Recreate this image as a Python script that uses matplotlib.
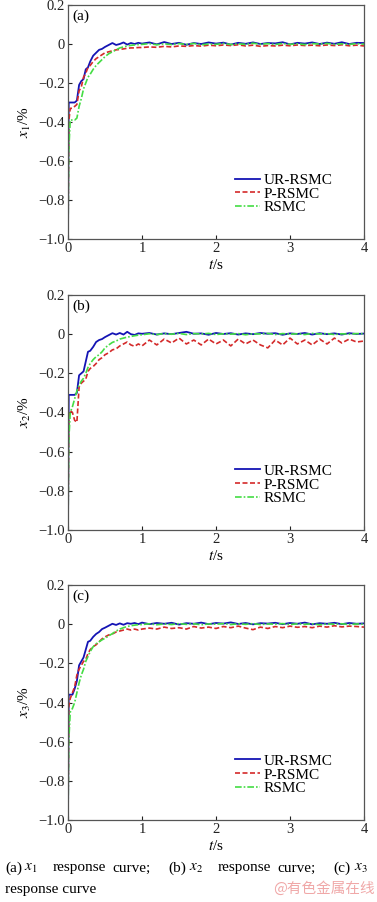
import numpy as np
import matplotlib
matplotlib.use("Agg")
import matplotlib.pyplot as plt

plt.rcParams['font.family'] = ['Liberation Serif', 'DejaVu Serif']
plt.rcParams['mathtext.fontset'] = 'stix'

# time grid (s): transient part, then steady part
t_rise = [0.0, 0.01, 0.03, 0.06, 0.09, 0.12, 0.15, 0.18, 0.21, 0.24, 0.27, 0.30,
          0.34, 0.38, 0.42, 0.46, 0.50, 0.55, 0.60, 0.65, 0.70, 0.75, 0.80, 0.85,
          0.90, 0.95]
t_tail = [1.0, 1.1, 1.2, 1.3, 1.4, 1.5, 1.6, 1.7, 1.8, 1.9, 2.0, 2.1, 2.2, 2.3,
          2.4, 2.5, 2.6, 2.7, 2.8, 2.9, 3.0, 3.1, 3.2, 3.3, 3.4, 3.5, 3.6, 3.7,
          3.8, 3.9, 4.0]
t = t_rise + t_tail

# panel (a): x1
x1_ur = [-1.0, -0.30, -0.30, -0.30, -0.30, -0.29, -0.21, -0.19, -0.18, -0.13, -0.12, -0.09,
         -0.06, -0.045, -0.03, -0.025, -0.015, -0.005, 0.005, -0.005, 0.0, 0.008, -0.003, 0.005,
         0.0, 0.006,
         0.002, 0.008, -0.002, 0.01, 0.0, 0.006, -0.004, 0.005, 0.0, 0.008, 0.002, 0.007, -0.003,
         0.006, 0.001, 0.008, 0.0, 0.005, 0.003, 0.009, -0.002, 0.006, 0.002, 0.008, 0.0, 0.007,
         0.001, 0.009, 0.0, 0.006, 0.005]
x1_p = [-1.0, -0.40, -0.33, -0.33, -0.32, -0.31, -0.24, -0.22, -0.17, -0.15, -0.12, -0.11,
        -0.09, -0.075, -0.065, -0.055, -0.045, -0.04, -0.035, -0.03, -0.028, -0.025, -0.022, -0.02,
        -0.02, -0.018,
        -0.018, -0.015, -0.017, -0.012, -0.015, -0.01, -0.012, -0.008, -0.011, -0.006, -0.009,
        -0.005, -0.008, -0.004, -0.01, -0.006, -0.012, -0.008, -0.01, -0.006, -0.009, -0.005,
        -0.008, -0.006, -0.009, -0.005, -0.008, -0.004, -0.009, -0.006, -0.01]
x1_r = [-1.0, -0.55, -0.39, -0.39, -0.39, -0.38, -0.32, -0.28, -0.23, -0.20, -0.17, -0.155,
        -0.13, -0.11, -0.095, -0.08, -0.065, -0.05, -0.04, -0.03, -0.02, -0.015, -0.01, -0.007,
        -0.005, -0.003,
        -0.002, 0.002, -0.004, 0.001, -0.003, 0.002, -0.002, 0.003, -0.004, 0.0, -0.002, 0.003,
        -0.003, 0.001, -0.002, 0.004, -0.001, 0.002, -0.003, 0.003, -0.002, 0.001, -0.003, 0.002,
        0.0, 0.003, -0.002, 0.001, -0.002, 0.002, -0.001]

# panel (b): x2
x2_ur = [-1.0, -0.31, -0.31, -0.31, -0.31, -0.30, -0.21, -0.20, -0.19, -0.14, -0.09, -0.085,
         -0.065, -0.04, -0.03, -0.025, -0.015, -0.005, 0.005, -0.002, 0.006, -0.002, 0.012, 0.0,
         -0.004, 0.004,
         0.002, 0.006, -0.002, 0.004, 0.0, 0.006, 0.012, 0.002, 0.004, -0.003, 0.006, 0.001,
         0.005, -0.002, 0.004, 0.0, 0.006, 0.002, 0.005, -0.003, 0.004, 0.001, 0.006, -0.002,
         0.005, 0.0, 0.004, -0.002, 0.005, 0.001, 0.003]
x2_p = [-1.0, -0.42, -0.39, -0.40, -0.44, -0.45, -0.27, -0.25, -0.24, -0.23, -0.19, -0.175,
        -0.165, -0.15, -0.13, -0.12, -0.105, -0.095, -0.08, -0.075, -0.06, -0.05, -0.04, -0.055,
        -0.062, -0.05,
        -0.06, -0.03, -0.055, -0.025, -0.045, -0.02, -0.05, -0.03, -0.055, -0.025, -0.05, -0.03,
        -0.06, -0.025, -0.05, -0.03, -0.055, -0.07, -0.03, -0.055, -0.02, -0.05, -0.03, -0.055,
        -0.025, -0.05, -0.02, -0.045, -0.025, -0.04, -0.035]
x2_r = [-1.0, -0.55, -0.40, -0.37, -0.33, -0.29, -0.26, -0.24, -0.225, -0.20, -0.17, -0.15,
        -0.13, -0.115, -0.105, -0.09, -0.07, -0.055, -0.042, -0.035, -0.025, -0.02, -0.015,
        -0.012, -0.008, -0.005,
        -0.003, 0.002, -0.002, 0.003, 0.0, 0.004, -0.002, 0.003, 0.001, 0.004, -0.002, 0.002,
        0.0, 0.003, -0.003, 0.002, 0.001, 0.004, -0.002, 0.003, 0.0, 0.002, -0.002, 0.004, 0.001,
        0.003, -0.002, 0.002, 0.0, 0.003, 0.002]

# panel (c): x3
x3_ur = [-1.0, -0.36, -0.36, -0.36, -0.33, -0.29, -0.21, -0.19, -0.17, -0.13, -0.09, -0.085,
         -0.065, -0.05, -0.04, -0.025, -0.018, -0.008, 0.002, -0.004, 0.004, -0.003, 0.005, 0.002,
         0.006, 0.0,
         0.008, 0.0, 0.006, 0.002, 0.007, -0.002, 0.005, 0.002, 0.008, 0.0, 0.006, 0.003, 0.009,
         0.001, 0.006, -0.001, 0.005, 0.003, 0.007, 0.0, 0.006, 0.002, 0.008, -0.001, 0.005,
         0.002, 0.007, 0.0, 0.006, 0.002, 0.004]
x3_p = [-1.0, -0.42, -0.38, -0.35, -0.32, -0.26, -0.23, -0.21, -0.19, -0.18, -0.15, -0.13,
        -0.115, -0.105, -0.09, -0.075, -0.065, -0.055, -0.05, -0.04, -0.035, -0.03, -0.025,
        -0.03, -0.025, -0.03,
        -0.025, -0.02, -0.025, -0.015, -0.022, -0.018, -0.025, -0.012, -0.02, -0.015, -0.022,
        -0.012, -0.018, -0.01, -0.02, -0.028, -0.015, -0.022, -0.012, -0.018, -0.01, -0.016,
        -0.012, -0.018, -0.01, -0.015, -0.008, -0.014, -0.01, -0.012, -0.015]
x3_r = [-1.0, -0.60, -0.45, -0.43, -0.40, -0.35, -0.30, -0.26, -0.23, -0.19, -0.165, -0.14,
        -0.115, -0.10, -0.09, -0.08, -0.072, -0.06, -0.048, -0.035, -0.025, -0.018, -0.012,
        -0.008, -0.005, -0.003,
        -0.002, 0.002, -0.003, 0.001, -0.002, 0.003, -0.001, 0.002, -0.003, 0.001, 0.0, 0.003,
        -0.002, 0.002, -0.001, 0.003, -0.002, 0.001, 0.0, 0.003, -0.002, 0.002, -0.001, 0.002,
        -0.003, 0.001, 0.0, 0.002, -0.002, 0.001, 0.0]

panels = [("(a)", r"$x_1$/%", x1_ur, x1_p, x1_r),
          ("(b)", r"$x_2$/%", x2_ur, x2_p, x2_r),
          ("(c)", r"$x_3$/%", x3_ur, x3_p, x3_r)]
labels = ["UR-RSMC", "P-RSMC", "RSMC"]
yticks = [-1.0, -0.8, -0.6, -0.4, -0.2, 0.0, 0.2]
yticklabels = ["\u22121.0", "\u22120.8", "\u22120.6", "\u22120.4", "\u22120.2", "0", "0.2"]
xticks = [0, 1, 2, 3, 4]

fig = plt.figure(figsize=(3.77, 9.02), dpi=100)
W, H = 377.0, 902.0
# axes boxes in pixels: (top, bottom)
boxes = [(5, 239), (295, 530), (585, 820)]

for (tag, ylab, ur, p, r), (top, bot) in zip(panels, boxes):
    ax = fig.add_axes([68 / W, 1 - bot / H, 296 / W, (bot - top) / H])
    ax.plot(t, ur, color='#1414b4', lw=1.3, ls='-', label=labels[0])
    ax.plot(t, p, color='#d42a2a', lw=1.2, ls=(0, (3, 1.5)), label=labels[1])
    ax.plot(t, r, color='#44dd44', lw=1.2, ls=(0, (4, 1.2, 1, 1.2)), label=labels[2])
    ax.set_xlim(0, 4)
    ax.set_ylim(-1.0, 0.2)
    ax.set_xticks(xticks)
    ax.set_xticklabels([str(v) for v in xticks])
    ax.set_yticks(yticks)
    ax.set_yticklabels(yticklabels)
    ax.tick_params(direction='in', length=3, width=0.8, labelsize=10.5,
                   colors='#222222', pad=2)
    for s in ax.spines.values():
        s.set_color('#555555')
        s.set_linewidth(0.9)
    ax.set_xlabel(r"$t$/s", fontsize=11, labelpad=2)
    ax.set_ylabel(ylab, fontsize=11, labelpad=4)
    ax.text(0.015, 0.98, tag, transform=ax.transAxes, fontsize=11,
            va='top', ha='left')
    ax.legend(loc='lower right', bbox_to_anchor=(0.93, 0.06), frameon=False,
              fontsize=11, handlelength=1.6, handletextpad=0.25,
              labelspacing=0.0, borderpad=0.2)

# caption
cap_y = 1 - 868 / H
pieces = [(5, "(a)"), (24, r"$x_1$"), (53, "response"), (112, "curve;"),
          (168, "(b)"), (189, r"$x_2$"), (218, "response"), (277, "curve;"),
          (333, "(c)"), (354, r"$x_3$")]
for px, s in pieces:
    fig.text(px / W, cap_y, s, fontsize=11, va='center', ha='left')
fig.text(5 / W, 1 - 889 / H, "response curve", fontsize=11, va='center', ha='left')
fig.text(375 / W, 1 - 889 / H, "@有色金属在线", fontsize=10.5, va='center', ha='right',
         color='#f0a8a8', family=['Noto Sans CJK SC', 'DejaVu Sans'])

fig.savefig("out.png", dpi=100)
